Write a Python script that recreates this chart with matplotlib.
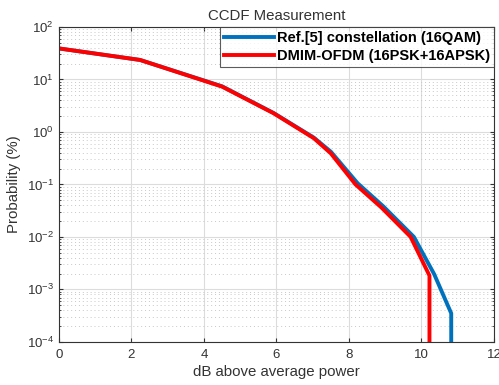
import numpy as np
import matplotlib
matplotlib.use("Agg")
import matplotlib.pyplot as plt
from matplotlib.ticker import LogLocator, NullFormatter

plt.rcParams['font.family'] = ['Liberation Sans', 'DejaVu Sans']
plt.rcParams['mathtext.fontset'] = 'custom'
plt.rcParams['mathtext.rm'] = 'Liberation Sans'

# CCDF curves (probability in %)
ref_db = [0, 2.24, 4.5, 5.92, 7.03, 7.5, 8.24, 8.95, 9.79, 10.35, 10.82, 10.82]
ref_prob = [39, 23.5, 7.4, 2.3, 0.78, 0.42, 0.105, 0.038, 0.01, 1.95e-3, 3.5e-4, 1e-4]

dmim_db = [0, 2.24, 4.5, 5.92, 7.03, 7.5, 8.18, 8.9, 9.7, 10.22, 10.22]
dmim_prob = [39, 23.5, 7.3, 2.27, 0.76, 0.39, 0.1, 0.036, 0.01, 1.83e-3, 1e-4]

labels = ['Ref.[5] constellation (16QAM)', 'DMIM-OFDM (16PSK+16APSK)']
xticks = [0, 2, 4, 6, 8, 10, 12]

fig = plt.figure(figsize=(4.99, 3.85), dpi=100)
ax = fig.add_axes([0.118, 0.112, 0.872, 0.818])

ax.semilogy(ref_db, ref_prob, color='#0072BD', lw=2.8, label=labels[0])
ax.semilogy(dmim_db, dmim_prob, color='#FF0000', lw=2.8, label=labels[1])

ax.set_xlim(0, 12)
ax.set_ylim(1e-4, 1e2)
ax.set_xticks(xticks)
ax.yaxis.set_major_locator(LogLocator(base=10, numticks=10))
ax.yaxis.set_minor_locator(LogLocator(base=10, subs=np.arange(2, 10), numticks=20))
ax.yaxis.set_minor_formatter(NullFormatter())

ax.grid(True, which='major', color='#dcdcdc', lw=0.8, ls='-')
ax.grid(True, which='minor', axis='y', color='#c8c8c8', lw=0.7, ls=(0, (1, 3)))
ax.set_axisbelow(True)

for s in ax.spines.values():
    s.set_color('#333333')
    s.set_linewidth(0.8)
ax.tick_params(which='both', direction='in', top=True, right=True,
               colors='#333333', labelcolor='#333333', labelsize=9.5)
ax.tick_params(which='major', length=3)
ax.tick_params(which='minor', length=1.5)
ax.tick_params(axis='x', pad=5)

ax.set_title('CCDF Measurement', fontsize=10.8, color='#333333', pad=5)
ax.set_xlabel('dB above average power', fontsize=10.8, color='#333333', labelpad=3)
ax.set_ylabel('Probability (%)', fontsize=10.8, color='#333333')

leg = ax.legend(loc='upper right', prop={'weight': 'bold', 'size': 10.5},
                frameon=True, fancybox=False, borderaxespad=0, handlelength=3.4,
                handletextpad=0.2, labelspacing=0.25, borderpad=0.3)
leg.get_frame().set_edgecolor('#333333')
leg.get_frame().set_linewidth(0.8)

fig.savefig('out.png', dpi=100)
